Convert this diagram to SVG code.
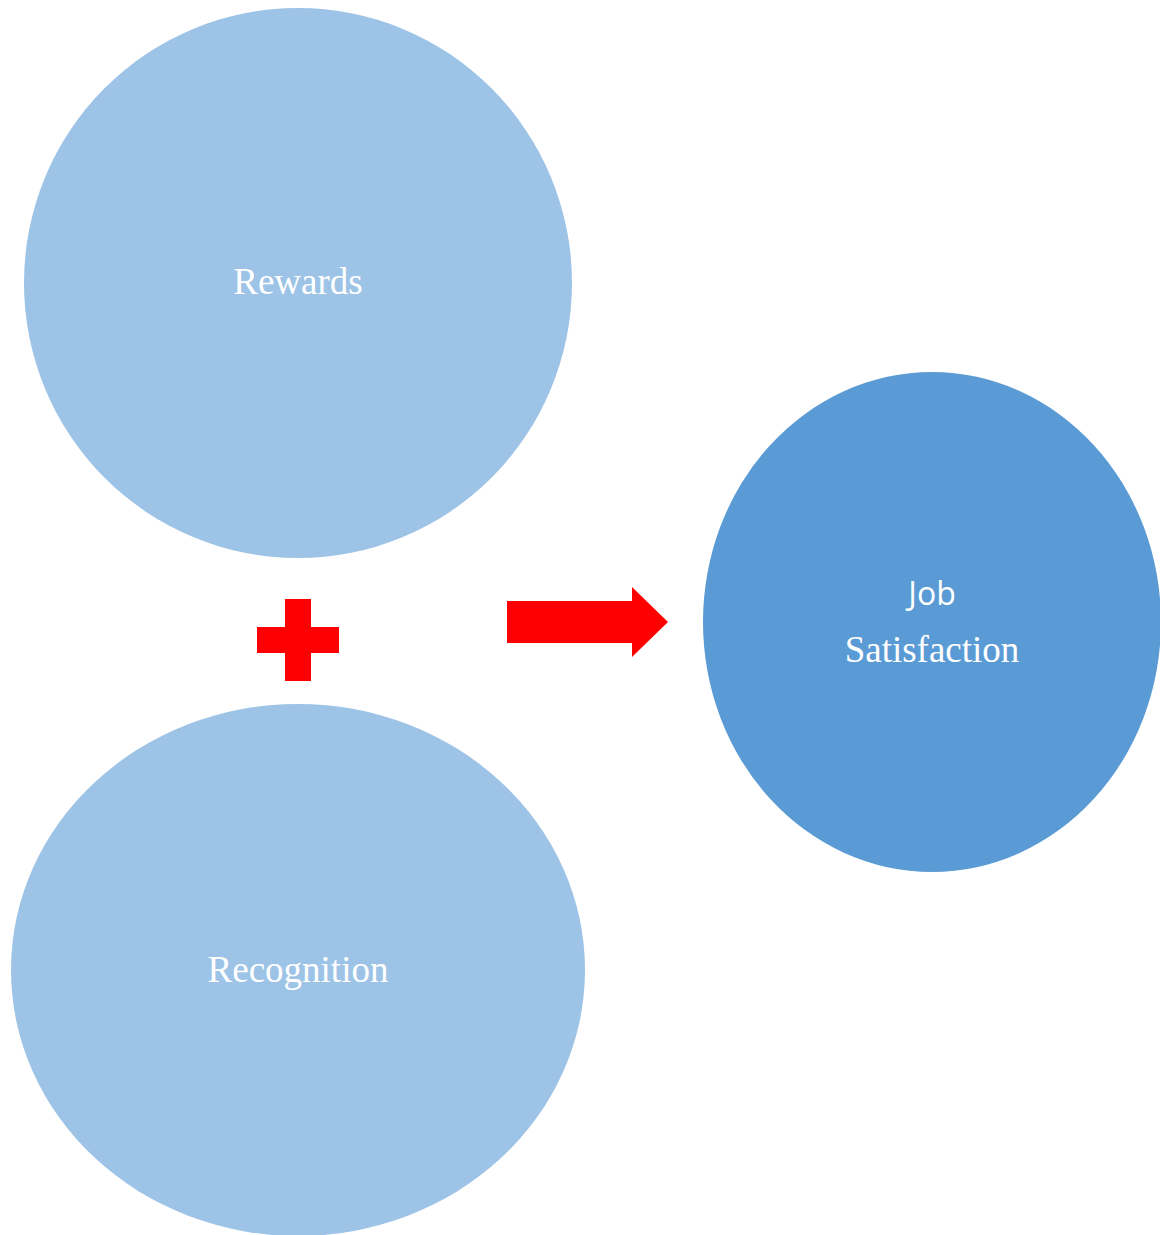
<svg xmlns="http://www.w3.org/2000/svg" width="1160" height="1235" viewBox="0 0 1160 1235">
  <style>
    .light { fill: #9DC3E6; }
    .dark { fill: #5B9BD5; }
    .sign { fill: #FF0000; }
    .serif { font-family: "Liberation Serif", "Times New Roman", serif; font-size: 37px; fill: #FFFFFF; text-anchor: middle; }
    .sans { font-family: "Open Sans", "Noto Sans", sans-serif; font-size: 32px; fill: #FFFFFF; text-anchor: middle; }
  </style>
  <rect width="1160" height="1235" fill="#FFFFFF"/>

  <g id="rewards">
    <ellipse class="light" cx="298" cy="283" rx="274" ry="275"/>
    <text class="serif" x="298" y="294">Rewards</text>
  </g>

  <g id="recognition">
    <ellipse class="light" cx="298" cy="970" rx="287" ry="266"/>
    <text class="serif" x="298" y="982">Recognition</text>
  </g>

  <g id="job-satisfaction">
    <ellipse class="dark" cx="932" cy="622" rx="229" ry="250"/>
    <text class="sans" x="932" y="605">Job</text>
    <text class="serif" x="932" y="662">Satisfaction</text>
  </g>

  <g id="connectors">
    <!-- plus sign between the two inputs -->
    <path class="sign" d="M285,599 H311 V627 H339 V653 H311 V681 H285 V653 H257 V627 H285 Z"/>
    <!-- block arrow toward the outcome -->
    <path class="sign" d="M507,601 H632 V587 L668,622 L632,657 V643 H507 Z"/>
  </g>
</svg>
